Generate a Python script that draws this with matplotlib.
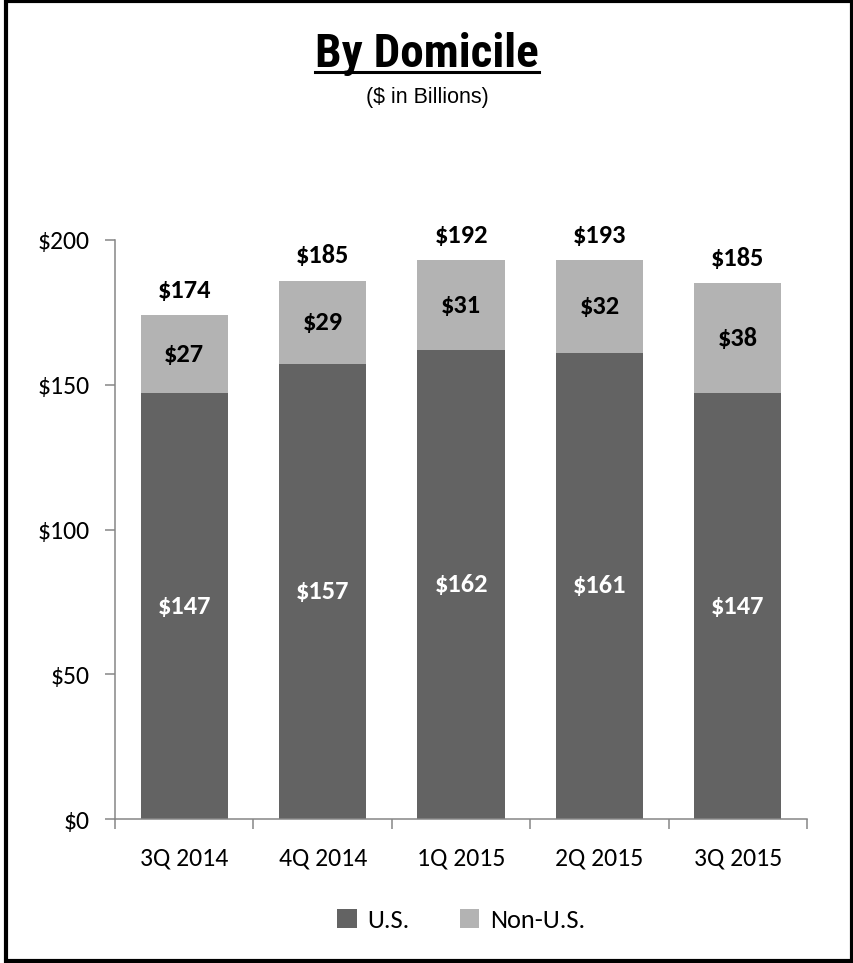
import matplotlib.pyplot as plt
from matplotlib.patches import Rectangle
from matplotlib.lines import Line2D

# values ($ in billions)
quarters = ["3Q 2014", "4Q 2014", "1Q 2015", "2Q 2015", "3Q 2015"]
us = [147, 157, 162, 161, 147]
non_us = [27, 29, 31, 32, 38]
totals = [174, 185, 192, 193, 185]
yticks = [0, 50, 100, 150, 200]

US_COLOR = "#636363"
NON_US_COLOR = "#b3b3b3"
AXIS_COLOR = "#868686"
BODY_FONT = ["Carlito", "Lato", "DejaVu Sans"]
TITLE_FONT = ["Roboto Condensed", "Liberation Sans Narrow", "Liberation Sans"]
SUB_FONT = ["Liberation Sans", "DejaVu Sans"]


def main():
    fig = plt.figure(figsize=(8.54, 9.63), dpi=100)
    ax = fig.add_axes([0.1347, 0.1495, 0.8103, 0.6013])

    x = [i + 0.5 for i in range(len(quarters))]
    width = 0.63
    ax.bar(x, us, width, color=US_COLOR, label="U.S.")
    ax.bar(x, non_us, width, bottom=us, color=NON_US_COLOR, label="Non-U.S.")

    # data labels
    for xi, u, n, t in zip(x, us, non_us, totals):
        ax.text(xi, u / 2, f"${u}", ha="center", va="center", color="white",
                fontsize=19, fontweight="bold", family=BODY_FONT)
        ax.text(xi, u + n / 2, f"${n}", ha="center", va="center", color="black",
                fontsize=19, fontweight="bold", family=BODY_FONT)
        ax.annotate(f"${t}", (xi, u + n), xytext=(0, 18), textcoords="offset points",
                    ha="center", va="center", fontsize=19, fontweight="bold",
                    family=BODY_FONT)

    ax.set_xlim(0, len(quarters))
    ax.set_ylim(0, 200)
    ax.set_yticks(yticks)
    ax.set_yticklabels([f"${v}" for v in yticks], family=BODY_FONT, fontsize=18.5)
    ax.set_xticks(x)
    ax.set_xticklabels(quarters, family=BODY_FONT, fontsize=18.5)
    ax.set_xticks(range(len(quarters) + 1), minor=True)
    ax.tick_params(axis="x", which="major", length=0, pad=20)
    ax.tick_params(axis="x", which="minor", length=7, width=1.1, color=AXIS_COLOR,
                   direction="out")
    ax.tick_params(axis="y", length=7, width=1.1, color=AXIS_COLOR, pad=11)

    for side in ["top", "right"]:
        ax.spines[side].set_visible(False)
    for side in ["left", "bottom"]:
        ax.spines[side].set_color(AXIS_COLOR)
        ax.spines[side].set_linewidth(1.1)

    # title with underline
    title = fig.text(0.5, 1 - 67 / 963, "By Domicile", ha="center", va="baseline",
                     fontsize=34, fontweight="bold", family=TITLE_FONT)
    fig.text(0.5, 1 - 97 / 963, "($ in Billions)", ha="center", va="center",
             fontsize=15.5, family=SUB_FONT)
    fig.canvas.draw()
    bb = title.get_window_extent().transformed(fig.transFigure.inverted())
    uy = 1 - 72.5 / 963
    fig.add_artist(Line2D([bb.x0, bb.x1], [uy, uy], color="black", lw=2.2,
                          transform=fig.transFigure))

    fig.legend(loc="center", bbox_to_anchor=(461 / 854, 1 - 920 / 963), ncol=2,
               frameon=False, handlelength=0.75, handleheight=0.75,
               handletextpad=0.4, columnspacing=1.9,
               prop={"family": BODY_FONT, "size": 19})

    # outer black frame
    fig.add_artist(Rectangle((6 / 854, 1 - 960.5 / 963), 846.5 / 854, 959 / 963,
                             fill=False, edgecolor="black", lw=3,
                             transform=fig.transFigure, clip_on=False))

    fig.savefig("out.png", dpi=100)


if __name__ == "__main__":
    main()
